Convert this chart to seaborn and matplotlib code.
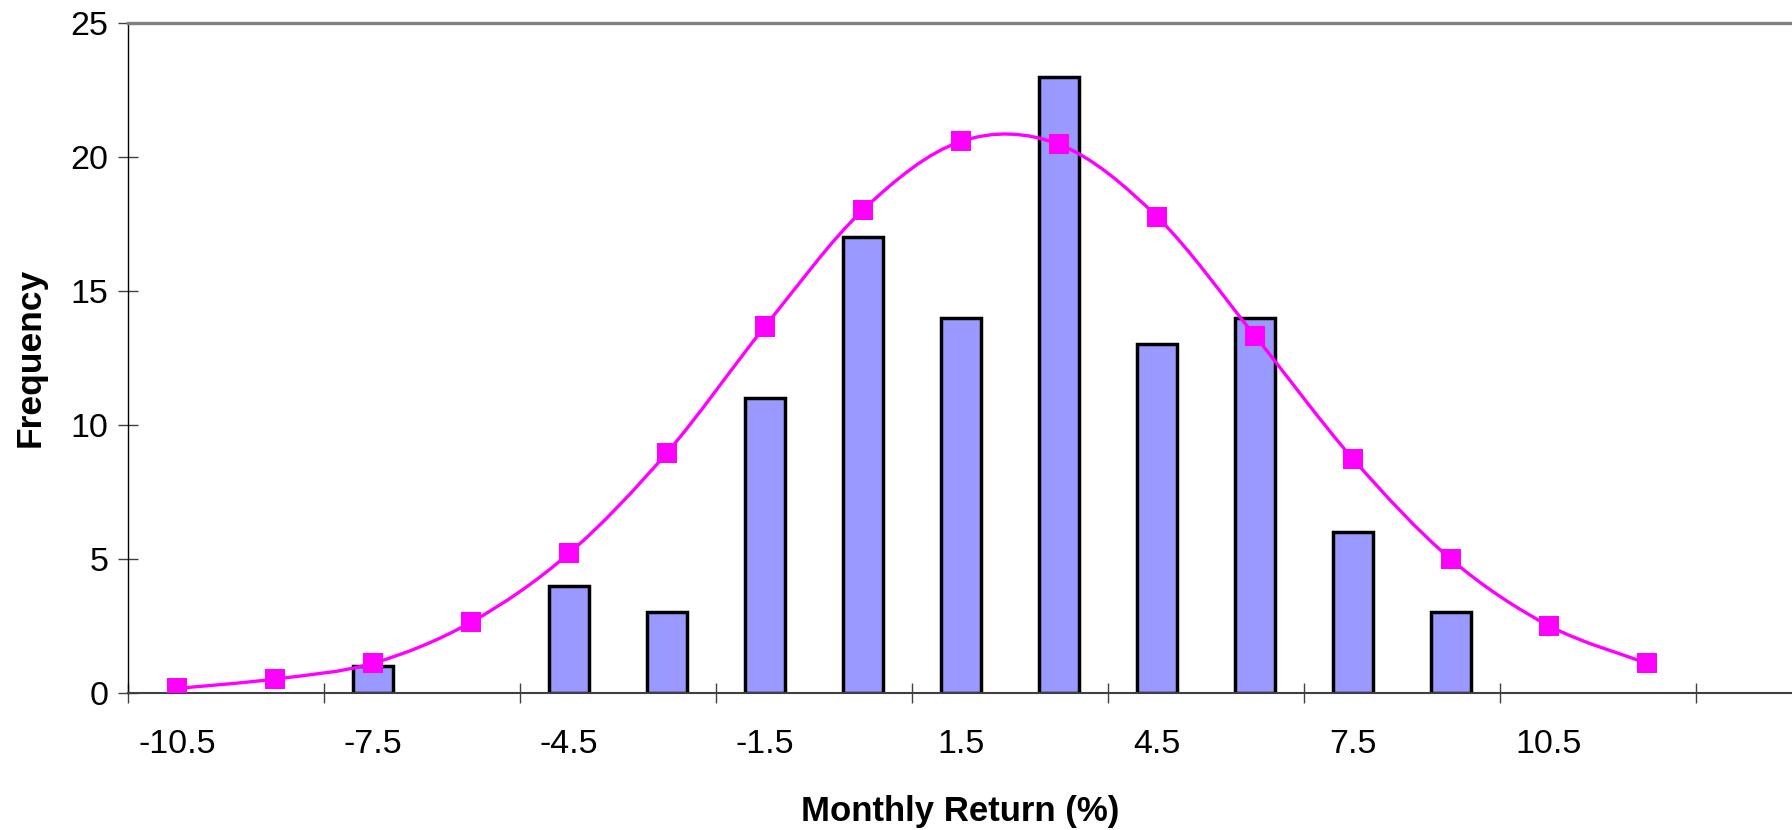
import matplotlib
matplotlib.use("Agg")
import matplotlib.pyplot as plt
import pandas as pd
import seaborn as sns
from matplotlib.path import Path
from matplotlib.patches import PathPatch

# Histogram bins (monthly return, %) and observed frequencies
return_bins = ["-10.5", "-9", "-7.5", "-6", "-4.5", "-3", "-1.5", "0", "1.5",
               "3", "4.5", "6", "7.5", "9", "10.5", "12", "13.5"]
frequency = [0, 0, 1, 0, 4, 3, 11, 17, 14, 23, 13, 14, 6, 3, 0, 0, 0]

# Fitted normal curve, expected frequency per bin
normal_bins = ["-10.5", "-9", "-7.5", "-6", "-4.5", "-3", "-1.5", "0", "1.5",
               "3", "4.5", "6", "7.5", "9", "10.5", "12"]
normal_freq = [0.16, 0.51, 1.10, 2.63, 5.20, 8.96, 13.67, 18.02, 20.58,
               20.47, 17.77, 13.32, 8.73, 4.98, 2.50, 1.10]

# Axis labels shown on every second bin
tick_labels = ["-10.5", "-7.5", "-4.5", "-1.5", "1.5", "4.5", "7.5", "10.5"]

BAR_COLOR = "#9999FF"
CURVE_COLOR = "#FF00FF"

sns.set_theme(style="white")
plt.rcParams["font.family"] = ["Liberation Sans", "DejaVu Sans"]
plt.rcParams["text.color"] = "black"
plt.rcParams["axes.labelcolor"] = "black"

fig = plt.figure(figsize=(17.92, 8.30), dpi=100)
ax = fig.add_axes([128 / 1792, 1 - 692.7 / 830, 1 - 128 / 1792, (692.7 - 23) / 830])

hist = pd.DataFrame({"bin": return_bins, "freq": frequency})
hist = hist[hist["freq"] > 0]
sns.barplot(data=hist, x="bin", y="freq", order=return_bins, color=BAR_COLOR,
            saturation=1, width=0.41, edgecolor="black", linewidth=2.5,
            ax=ax, zorder=2)

# Smoothed normal curve (Catmull-Rom style Bezier through the bin values)
pos = [return_bins.index(b) for b in normal_bins]
pts = list(zip(pos, normal_freq))
verts = [pts[0]]
codes = [Path.MOVETO]
n = len(pts)
for i in range(n - 1):
    p0 = pts[i - 1] if i > 0 else pts[i]
    p1 = pts[i]
    p2 = pts[i + 1]
    p3 = pts[i + 2] if i + 2 < n else pts[i + 1]
    c1 = (p1[0] + (p2[0] - p0[0]) / 6, p1[1] + (p2[1] - p0[1]) / 6)
    c2 = (p2[0] - (p3[0] - p1[0]) / 6, p2[1] - (p3[1] - p1[1]) / 6)
    verts += [c1, c2, p2]
    codes += [Path.CURVE4] * 3
ax.add_patch(PathPatch(Path(verts, codes), facecolor="none",
                       edgecolor=CURVE_COLOR, linewidth=2.4, zorder=3))
sns.scatterplot(x=pos, y=normal_freq, marker="s", s=210, color=CURVE_COLOR,
                edgecolor="none", ax=ax, zorder=4, legend=False)

ax.set_xlim(-0.5, 16.48)
ax.set_ylim(0, 25)

# Tick marks on bin boundaries, labels centred on every second bin
ax.set_xticks([b - 0.5 for b in range(0, 17, 2)])
ax.set_xticklabels([])
ax.set_xticks(list(range(0, 15, 2)), minor=True)
ax.set_xticklabels(tick_labels, minor=True)
ax.tick_params(axis="x", which="major", direction="inout", length=15,
               width=1, color="#404040", bottom=True)
ax.tick_params(axis="x", which="minor", length=0, pad=26, labelsize=24.5,
               labelcolor="black", bottom=True)
ax.set_yticks([0, 5, 10, 15, 20, 25])
ax.tick_params(axis="y", direction="inout", length=14, width=1,
               color="#404040", pad=7, labelsize=24.5, labelcolor="black",
               left=True)

ax.set_xlabel("Monthly Return (%)", fontsize=25, fontweight="bold",
              labelpad=25, color="black")
ax.set_ylabel("Frequency", fontsize=25.5, fontweight="bold", labelpad=17,
              color="black")

for side in ["left", "bottom", "top"]:
    ax.spines[side].set_visible(True)
ax.spines["right"].set_visible(False)
ax.spines["left"].set_color("black")
ax.spines["left"].set_linewidth(1.0)
ax.spines["bottom"].set_color("#404040")
ax.spines["bottom"].set_linewidth(1.5)
ax.spines["top"].set_color("#808080")
ax.spines["top"].set_linewidth(2.4)
ax.grid(False)

fig.savefig("out.png", dpi=100)
